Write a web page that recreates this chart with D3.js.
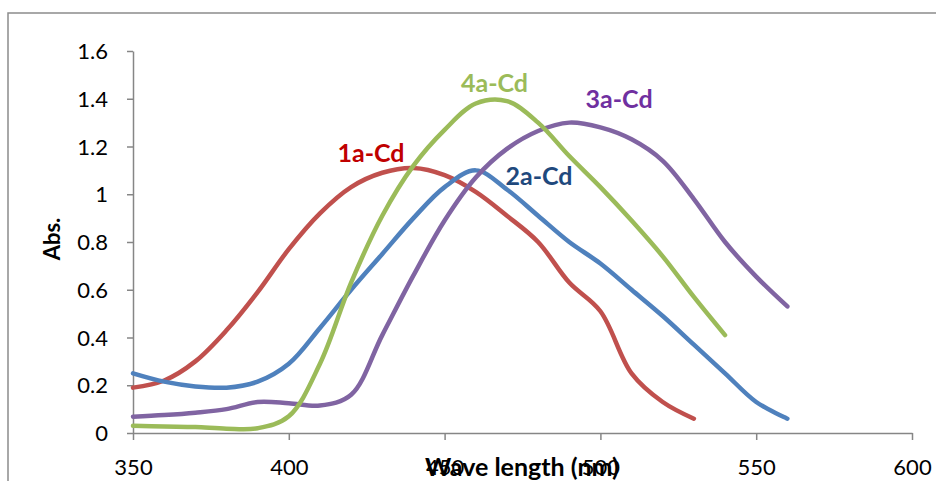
<!DOCTYPE html>
<html>
<head>
<meta charset="utf-8">
<script src="https://cdn.jsdelivr.net/npm/d3@7"></script>
<style>
  html, body { margin: 0; padding: 0; background: #fff; }
  svg { display: block; }
</style>
</head>
<body>
<svg id="chart" width="936" height="481"></svg>
<script>
// ---- data ----
const wavelengths = [350,360,370,380,390,400,410,420,430,440,450,460,470,480,490,500,510,520,530,540,550,560];
const series1a = [0.19,0.22,0.30,0.43,0.59,0.77,0.92,1.03,1.09,1.11,1.08,1.01,0.91,0.80,0.63,0.51,0.25,0.13,0.06];
const series2a = [0.25,0.215,0.195,0.19,0.215,0.29,0.44,0.60,0.75,0.90,1.03,1.10,1.02,0.91,0.80,0.71,0.60,0.49,0.37,0.25,0.13,0.06];
const series3a = [0.068,0.075,0.085,0.10,0.13,0.125,0.115,0.16,0.41,0.66,0.89,1.07,1.19,1.265,1.30,1.28,1.23,1.14,0.98,0.80,0.655,0.53];
const series4a = [0.03,0.027,0.025,0.018,0.02,0.07,0.29,0.63,0.91,1.12,1.27,1.38,1.39,1.30,1.16,1.03,0.89,0.74,0.57,0.41];
const seriesNames = ["1a-Cd","2a-Cd","3a-Cd","4a-Cd"];
const xTicks = [350,400,450,500,550,600];
const yTicks = [0,0.2,0.4,0.6,0.8,1,1.2,1.4,1.6];
const xTitle = "Wave length (nm)";
const yTitle = "Abs.";

const lineColors = {"1a-Cd":"#C0504D","2a-Cd":"#4F81BD","3a-Cd":"#8064A2","4a-Cd":"#9BBB59"};
const labelColors = {"1a-Cd":"#C00000","2a-Cd":"#1F497D","3a-Cd":"#7030A0","4a-Cd":"#9BBB59"};
const labelPos = {"1a-Cd":[426.4,1.135],"2a-Cd":[480.3,1.04],"3a-Cd":[506,1.36],"4a-Cd":[466,1.428]};

const svg = d3.select("#chart");
const font = "Lato, 'Open Sans', sans-serif";

// outer frame
svg.append("rect").attr("x",8).attr("y",13).attr("width",1000).attr("height",1000)
  .attr("fill","none").attr("stroke","#8c8c8c").attr("stroke-width",1.5);

const x = d3.scaleLinear().domain([350,600]).range([133,912]);
const y = d3.scaleLinear().domain([0,1.6]).range([433,51]);

const axisColor = "#868686";

// x axis
const xAxis = svg.append("g").attr("transform","translate(0,433)")
  .call(d3.axisBottom(x).tickValues(xTicks).tickFormat(d3.format("d")).tickSize(7).tickSizeOuter(0));
xAxis.select(".domain").attr("stroke",axisColor).attr("stroke-width",1.5);
xAxis.selectAll(".tick line").attr("stroke",axisColor).attr("stroke-width",1.5);
xAxis.selectAll(".tick text").attr("font-family",font).attr("font-size",22).attr("fill","#000").attr("dy",0).attr("y",42);

// y axis
const yAxis = svg.append("g").attr("transform","translate(133,0)")
  .call(d3.axisLeft(y).tickValues(yTicks).tickFormat(d => d3.format("")(+d.toFixed(1))).tickSize(6).tickSizeOuter(0));
yAxis.select(".domain").attr("stroke",axisColor).attr("stroke-width",1.5);
yAxis.selectAll(".tick line").attr("stroke",axisColor).attr("stroke-width",1.5);
yAxis.selectAll(".tick text").attr("font-family",font).attr("font-size",22).attr("fill","#000").attr("x",-25).attr("dy","0.35em");

// lines
const allSeries = [series1a, series2a, series3a, series4a];
const line = d3.line()
  .x((d,i) => x(wavelengths[i]))
  .y(d => y(d))
  .curve(d3.curveCatmullRom.alpha(0.5));

seriesNames.forEach((name, k) => {
  svg.append("path").datum(allSeries[k])
    .attr("d", line)
    .attr("fill","none")
    .attr("stroke", lineColors[name])
    .attr("stroke-width",4.5)
    .attr("stroke-linecap","round")
    .attr("stroke-linejoin","round");
});

// series labels
seriesNames.forEach(name => {
  const p = labelPos[name];
  svg.append("text")
    .attr("x", x(p[0])).attr("y", y(p[1]))
    .attr("text-anchor","middle")
    .attr("font-family",font).attr("font-weight","bold").attr("font-size",25)
    .attr("fill", labelColors[name])
    .text(name);
});

// axis titles
svg.append("text").attr("x",522).attr("y",476).attr("text-anchor","middle")
  .attr("font-family",font).attr("font-weight","bold").attr("font-size",25).attr("fill","#000")
  .text(xTitle);
svg.append("text").attr("transform","translate(60,239) rotate(-90)").attr("text-anchor","middle")
  .attr("font-family",font).attr("font-weight","bold").attr("font-size",22).attr("fill","#000")
  .text(yTitle);
</script>
</body>
</html>
